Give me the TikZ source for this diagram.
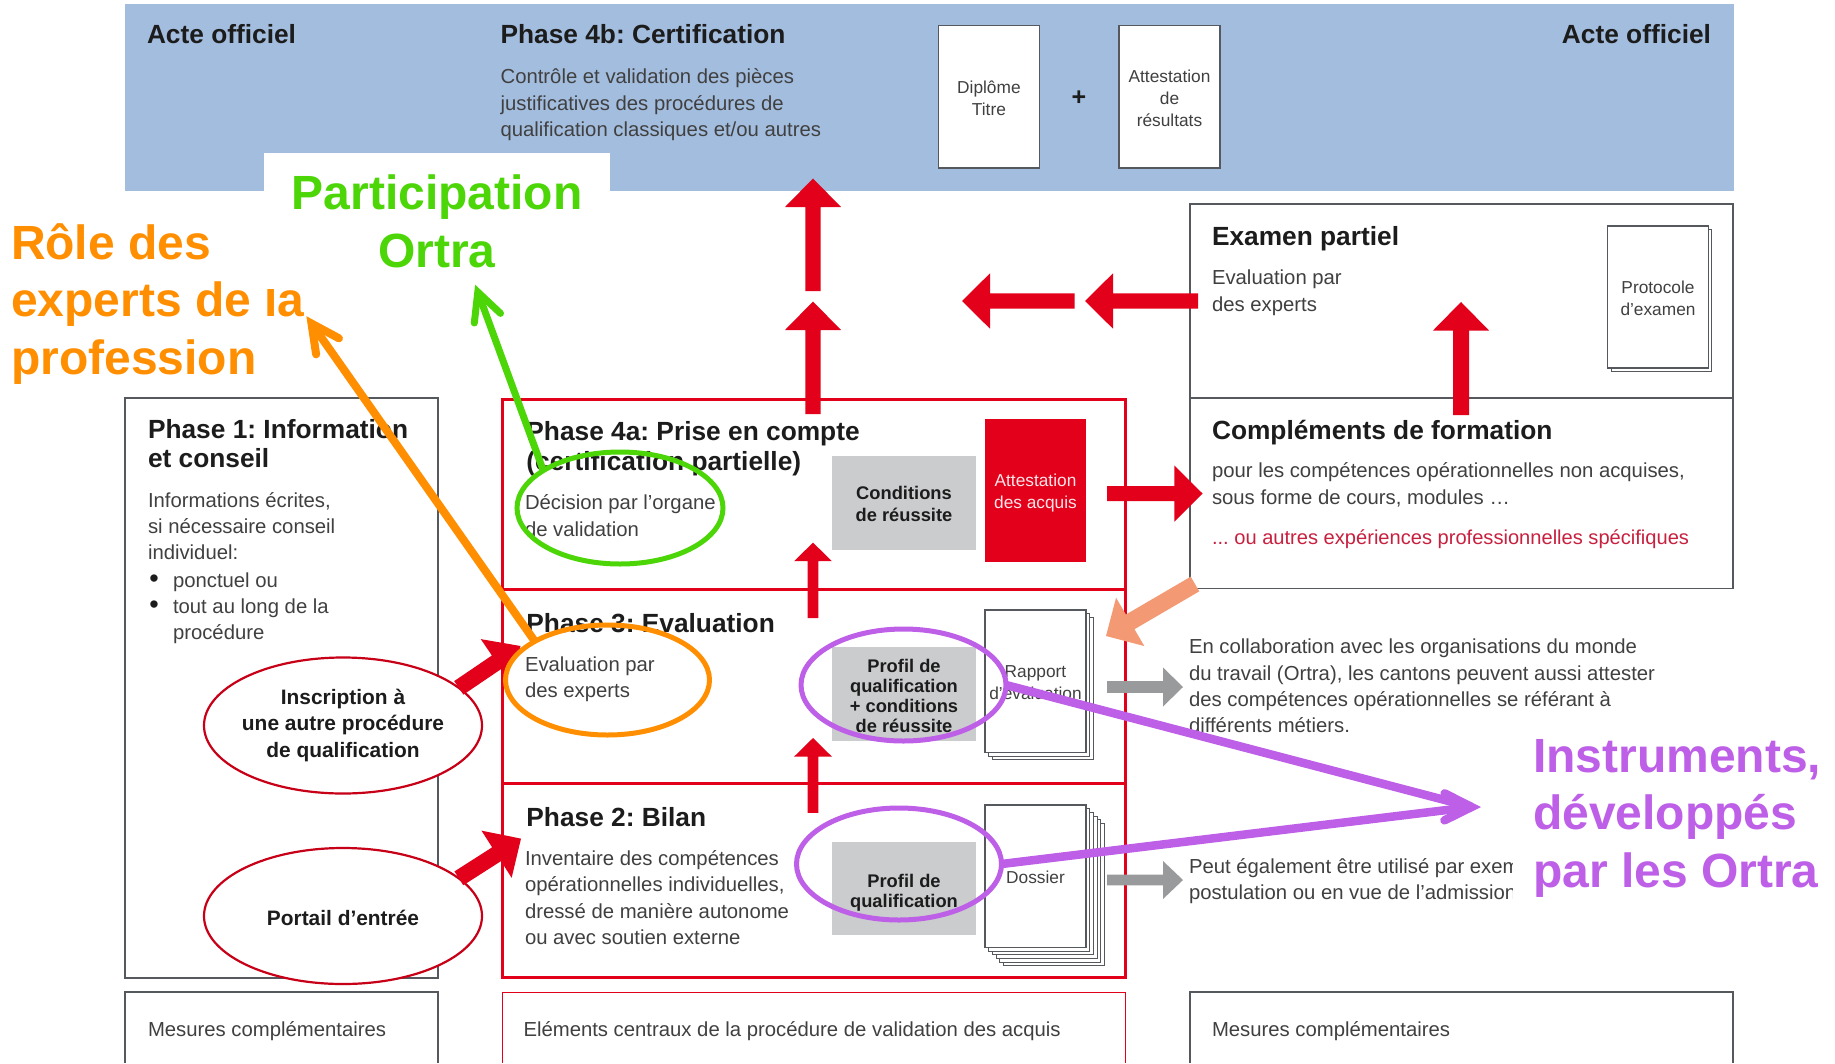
\documentclass[tikz,border=0pt]{standalone}
\usepackage{fontspec}
\setmainfont{Liberation Sans}
\usetikzlibrary{calc,shapes.geometric}
\definecolor{cblue}{HTML}{A3BDDE}
\definecolor{cred}{HTML}{E2001A}
\definecolor{cline}{HTML}{55595E}
\definecolor{cgray}{HTML}{CBCCCE}
\definecolor{chead}{HTML}{1C1C1C}
\definecolor{cbody}{HTML}{404040}
\definecolor{corange}{HTML}{FF8F00}
\definecolor{cgreen}{HTML}{4CD608}
\definecolor{cpurple}{HTML}{BE5FE8}
\definecolor{csalmon}{HTML}{F39A75}
\definecolor{carrowgray}{HTML}{999A9C}
\definecolor{credtext}{HTML}{C8203F}
\newcommand\fsz[2]{\fontsize{#1}{#2}\selectfont}
\newcommand\rbox[7][]{\node[rboxbase,#1,minimum width={(#4-#2)*1pt},minimum height={(#5-#3)*1pt}] (#6) at ({(#2+#4)/2},{(#3+#5)/2}) {#7};}
% tail, tip, shaft half, head length, head half, colour
\newcommand\blockarrow[6]{\fill[#6] let \p1=(#1), \p2=(#2), \n1={atan2(\y2-\y1,\x2-\x1)} in
  [shift={(#2)},rotate=\n1] (0,0) -- (-#4,#5) -- (-#4,#3) -- ($(-#4,#3)+(-{veclen(\x2-\x1,\y2-\y1)}+#4,0)$) -- ($(-#4,-#3)+(-{veclen(\x2-\x1,\y2-\y1)}+#4,0)$) -- (-#4,-#3) -- (-#4,-#5) -- cycle;}
% direction point, tip, colour, width, barb length
\newcommand\openhead[5]{\draw[#3,line width=#4,line cap=round,line join=miter] let \p1=(#1), \p2=(#2), \n1={atan2(\y2-\y1,\x2-\x1)} in
  [shift={(#2)},rotate=\n1] (-#5*0.9,#5*0.45) -- (0,0) -- (-#5*0.9,-#5*0.45);}
\tikzset{
  rboxbase/.style={inner sep=0pt,outer sep=0pt,align=center},
  frameb/.style={draw=cline,line width=1.3pt,fill=white},
  tx/.style={inner sep=0pt,outer sep=0pt,execute at begin node=\strut,execute at end node=\strut},
  graybox/.style={fill=cgray},
  graytxt/.style={tx,align=center,text=chead,font=\fsz{18.3}{19.9}\bfseries},
  headt/.style={tx,anchor=west,align=left,text=chead,font=\fsz{26.3}{29.3}\bfseries},
  bodyt/.style={tx,anchor=west,align=left,text=cbody,font=\fsz{20.3}{26.3}},
  smallt/.style={tx,align=center,text=cbody,font=\fsz{17.3}{22}},
  bigt/.style={tx,align=left,font=\fsz{48}{57.5}\bfseries},
  ringell/.style={ellipse,inner sep=0pt,outer sep=0pt,line width=5pt,fill=none},
  redell/.style={ellipse,inner sep=0pt,outer sep=0pt,draw=cred!88!black,line width=2.2pt,fill=white,minimum width=278pt,minimum height=136pt},
  redtxt/.style={tx,align=center,text=chead,font=\fsz{20.9}{26.5}\bfseries},
}
\begin{document}
\frenchspacing
\begin{tikzpicture}[x=1pt,y=-1pt]
\useasboundingbox (0,0) rectangle (1835,1063);
\fill[white] (0,0) rectangle (1835,1063);
% blue band
\rbox[fill=cblue]{125}{3.5}{1733.5}{191}{band}{}
\rbox[frameb]{938.5}{25.4}{1039.4}{168}{diplome}{}
\rbox[frameb]{1119}{25.4}{1220}{168}{attres}{}
\node[smallt] (diplometxt) at (988.9,101.5) {Diplôme\\Titre};
\node[smallt] (attrestxt) at (1169.5,101.5) {Attestation\\de\\résultats};
\node[tx,text=chead,font=\fsz{25}{28}\bfseries] (plus) at (1079,100) {+};
\node[headt] (acte1) at (147,38) {Acte officiel};
\node[headt] (ph4b) at (500.6,38) {Phase 4b: Certification};
\node[bodyt] (ph4btxt) at (500.6,106.5) {Contrôle et validation des pièces\\justificatives des procédures de\\qualification classiques et/ou autres};
\node[headt,anchor=east] (acte2) at (1711,38) {Acte officiel};
% white patch of the label
\rbox[fill=white]{264}{153}{610}{192}{patch}{}
% right boxes
\rbox[frameb]{1190}{204}{1733}{398}{exam}{}
\rbox[frameb]{1190}{398}{1733}{588.5}{compl}{}
\foreach \d in {3.5}{\draw[cline,line width=1pt,fill=white] (1607.5+\d,226+\d) rectangle (1708.4+\d,368+\d);}
\rbox[frameb,line width=1.1pt]{1607.5}{226}{1708.4}{368}{proto}{}
\node[smallt] (prototxt) at (1658,301.5) {Protocole\\d’examen};
\node[headt] (examt) at (1212,240) {Examen partiel};
\node[bodyt] (examb) at (1212,294.5) {Evaluation par\\des experts};
\node[headt] (complt) at (1212,433.5) {Compléments de formation};
\node[bodyt] (complb) at (1212,487.5) {pour les compétences opérationnelles non acquises,\\sous forme de cours, modules …};
\node[bodyt,text=credtext,font=\fsz{20.1}{26.3}] (complr) at (1212,539) {... ou autres expériences professionnelles spécifiques};
% phase 1
\rbox[frameb]{125}{398}{438}{978}{ph1}{}
\node[headt] (ph1t) at (148,448) {Phase 1: Information\\et conseil};
\node[bodyt] (ph1b) at (148,530) {Informations écrites,\\si nécessaire conseil\\individuel:};
\node[tx,text=chead,font=\fsz{27}{26.3}] (bul1) at (154,582) {•};
\node[tx,text=chead,font=\fsz{27}{26.3}] (bul2) at (154,608.5) {•};
\node[bodyt] (ph1l) at (173,610) {ponctuel ou\\tout au long de la\\procédure};
% central frame
\rbox[draw=cred,line width=3pt]{502}{399}{1125}{977}{central}{}
\draw[cred,line width=3pt] (502,589.5) coordinate (d1l) -- (1125,589.5) coordinate (d1r);
\draw[cred,line width=3pt] (502,783) coordinate (d2l) -- (1125,783) coordinate (d2r);
\node[headt] (ph4a) at (526.4,450.5) {Phase 4a: Prise en compte\\(certification partielle)};
\node[bodyt] (ph4ab) at (525,519.5) {Décision par l’organe\\de validation};
\node[headt] (ph2) at (526.4,821) {Phase 2: Bilan};
\node[bodyt] (ph2b) at (525,901.5) {Inventaire des compétences\\opérationnelles individuelles,\\dressé de manière autonome\\ou avec soutien externe};
\rbox[graybox]{832}{456.4}{976}{549.7}{cond}{}
\node[graytxt,font=\fsz{18.3}{22}\bfseries] (condt) at (904,507.5) {Conditions\\de réussite};
\rbox[graybox]{832}{647}{976}{741.4}{prof1}{}
\node[graytxt] (prof1t) at (904,699) {Profil de\\qualification\\+ conditions\\de réussite};
\rbox[graybox]{832}{842}{976}{935}{prof2}{}
\node[graytxt] (prof2t) at (904,894) {Profil de\\qualification};
\rbox[fill=cred]{985}{419}{1086}{562}{attac}{}
\node[smallt,text=white!90!cred] (attact) at (1035.5,495) {Attestation\\des acquis};
% stacks
\foreach \d in {7,3.5}{\draw[cline,line width=1pt,fill=white] (985+\d,610+\d) rectangle (1086+\d,752.6+\d);}
\rbox[frameb,line width=1.1pt]{985}{610}{1086}{752.6}{rapport}{}
\node[smallt] (rapporttxt) at (1035.5,685.7) {Rapport\\d'évaluation};
\foreach \d in {18.5,14.8,11.1,7.4,3.7}{\draw[cline,line width=1pt,fill=white] (985+\d,805+\d) rectangle (1086+\d,947.4+\d);}
\rbox[frameb,line width=1.1pt]{985}{805}{1086}{947.4}{dossier}{}
\node[smallt] (dossiertxt) at (1035.5,879.5) {Dossier};
% side text
\node[bodyt] (collab) at (1189,690) {En collaboration avec les organisations du monde\\du travail (Ortra), les cantons peuvent aussi attester\\des compétences opérationnelles se référant à\\différents métiers.};
\begin{scope}
\clip (1180,845) rectangle (1512,915);
\node[bodyt] (peut) at (1189,883) {Peut également être utilisé par exem\\postulation ou en vue de l’admission};
\end{scope}
% bottom boxes (open at the page edge)
\coordinate (m1a) at (125,1063); \coordinate (m1b) at (125,992); \coordinate (m1c) at (438,992); \coordinate (m1d) at (438,1063);
\draw[cline,line width=1.3pt] (m1a) -- (m1b) -- (m1c) -- (m1d);
\coordinate (m2a) at (502,1063); \coordinate (m2b) at (502,992); \coordinate (m2c) at (1125,992); \coordinate (m2d) at (1125,1063);
\draw[cred,line width=1pt] (m2a) -- (m2b) -- (m2c) -- (m2d);
\coordinate (m3a) at (1190,1063); \coordinate (m3b) at (1190,992); \coordinate (m3c) at (1733,992); \coordinate (m3d) at (1733,1063);
\draw[cline,line width=1.3pt] (m3a) -- (m3b) -- (m3c) -- (m3d);
\node[bodyt] (mes1) at (148,1031.5) {Mesures complémentaires};
\node[bodyt] (elem) at (523.5,1031.5) {Eléments centraux de la procédure de validation des acquis};
\node[bodyt] (mes3) at (1212,1031.5) {Mesures complémentaires};
% red block arrows
\coordinate (a1t) at (813,291); \coordinate (a1h) at (813,178.5);
\coordinate (a2t) at (813,414); \coordinate (a2h) at (813,301.5);
\coordinate (a3t) at (1074.6,301); \coordinate (a3h) at (962,301);
\coordinate (a4t) at (1198,301); \coordinate (a4h) at (1085,301);
\coordinate (a5t) at (1461,415); \coordinate (a5h) at (1461,302);
\coordinate (a6t) at (1107,493.6); \coordinate (a6h) at (1202.6,493.6);
\coordinate (a7t) at (813,618); \coordinate (a7h) at (813,542.6);
\coordinate (a8t) at (813,812.8); \coordinate (a8h) at (813,738);
\blockarrow{a1t}{a1h}{7.6}{28.5}{28}{cred}
\blockarrow{a2t}{a2h}{7.6}{28.5}{28}{cred}
\blockarrow{a3t}{a3h}{7.7}{28}{27.7}{cred}
\blockarrow{a4t}{a4h}{7.7}{28}{27.7}{cred}
\blockarrow{a5t}{a5h}{8}{28.5}{28}{cred}
\blockarrow{a6t}{a6h}{7.6}{28.2}{28}{cred}
\blockarrow{a7t}{a7h}{5.3}{18.5}{18.8}{cred}
\blockarrow{a8t}{a8h}{5.3}{18.5}{18.8}{cred}
% grey and salmon arrows
\coordinate (g1t) at (1107,687); \coordinate (g1h) at (1183,687);
\coordinate (g2t) at (1107,880); \coordinate (g2h) at (1183,880);
\blockarrow{g1t}{g1h}{5.8}{20}{19.5}{carrowgray}
\blockarrow{g2t}{g2h}{5.3}{20}{19}{carrowgray}
\coordinate (s1t) at (1195,584); \coordinate (s1h) at (1106,636);
\blockarrow{s1t}{s1h}{8.5}{28}{28}{csalmon}
% red ellipses and their arrows
\coordinate (r1h) at (520.5,646); \coordinate (r2h) at (521,838.6);
\node[redell] (insc) at (343,725.5) {};
\node[redtxt] (insct) at (343,727) {Inscription à\\une autre procédure\\de qualification};
\node[redell] (port) at (343,916) {};
\node[redtxt] (portt) at (343,920) {Portail d’entrée};
\coordinate (r1t) at (insc.18); \coordinate (r2t) at (port.18);
\blockarrow{r1t}{r1h}{8.2}{29}{28}{cred}
\blockarrow{r2t}{r2h}{8.2}{29}{28}{cred}
% the orange ring masks the arrow head behind it
\fill[white] (607.5,680) ellipse [x radius=102pt,y radius=55pt];
\node[headt] (ph3) at (526.4,627) {Phase 3: Evaluation};
\node[bodyt] (ph3b) at (525,681) {Evaluation par\\des experts};
% annotation rings
\node[ringell,draw=cgreen,minimum width=206pt,minimum height=112pt] (ringg) at (620,508) {};
\node[ringell,draw=corange,minimum width=204pt,minimum height=110pt] (ringo) at (607.5,680) {};
\node[ringell,draw=cpurple,minimum width=205pt,minimum height=112pt] (ringp1) at (903.5,685) {};
\node[ringell,draw=cpurple,minimum width=205pt,minimum height=112pt] (ringp2) at (899,864) {};
% annotation labels
\node[bigt,anchor=west,text=corange] (lblo) at (11,307.5) {Rôle des\\experts de la\\profession};
\fill[white] (265,272) rectangle (277,289);
\node[bigt,align=center,text=cgreen] (lblg) at (437,229.5) {Participation\\Ortra};
\node[bigt,anchor=west,text=cpurple] (lblp) at (1533,822) {Instruments,\\développés\\par les Ortra};
% annotation arrows
\coordinate (oh) at (311.5,323.5); \coordinate (gh) at (477.8,292); \coordinate (ph) at (1471.5,807);
\draw[corange,line width=8pt] (ringo.152) -- (oh);
\openhead{ringo.152}{oh}{corange}{8pt}{31}
\draw[cgreen,line width=7pt] (ringg.154) -- (gh);
\openhead{ringg.154}{gh}{cgreen}{7pt}{31}
\draw[cpurple,line width=8.5pt] (ringp1.0) -- (ph);
\draw[cpurple,line width=8.5pt] (ringp2.0) -- (ph);
\coordinate (pdir) at (1300,806);
\openhead{pdir}{ph}{cpurple}{8.5pt}{30}
\end{tikzpicture}
\end{document}
